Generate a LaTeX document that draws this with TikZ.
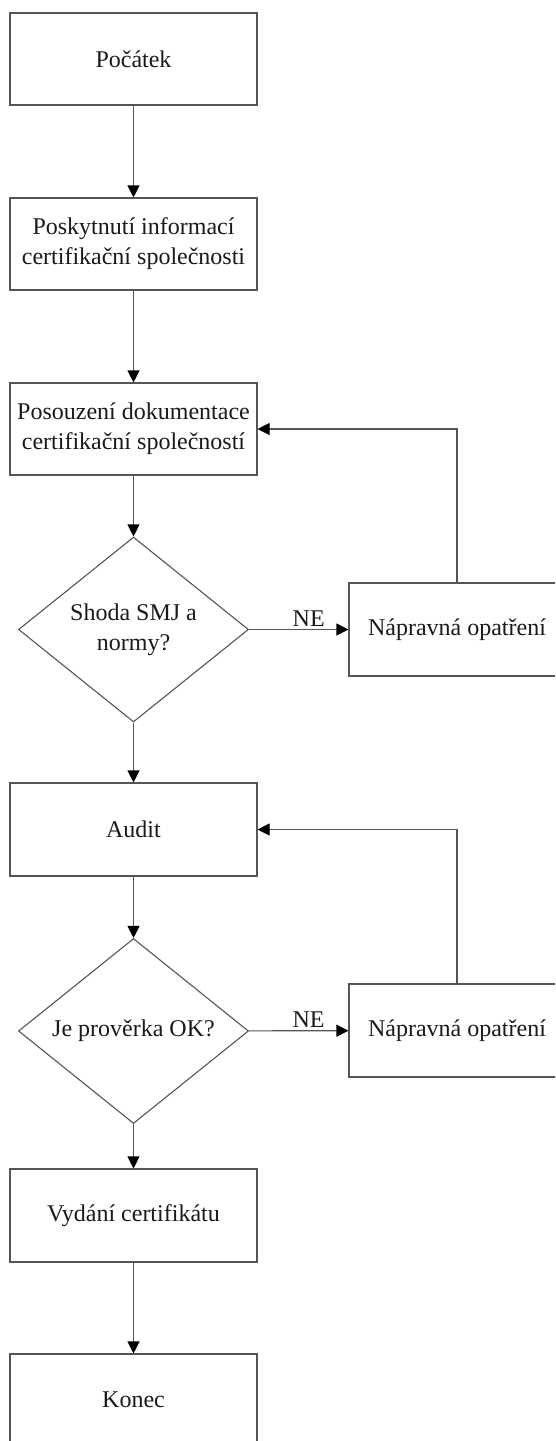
\documentclass[tikz,border=0pt]{standalone}
\usepackage{fontspec}
\setmainfont{Liberation Serif}
\usetikzlibrary{shapes.geometric,arrows.meta}
\definecolor{linegray}{HTML}{555555}
\definecolor{textcol}{HTML}{1A1A1A}
\begin{document}
\begin{tikzpicture}[x=1pt,y=-1pt,
  every node/.style={font=\fontsize{24}{30}\selectfont, text=textcol},
  procbox/.style={draw=linegray, line width=1.1pt, rectangle, minimum width=247pt, minimum height=92pt, inner sep=0pt, align=center},
  fixbox/.style={draw=linegray, line width=1.1pt, rectangle, minimum width=216pt, minimum height=93pt, inner sep=0pt, align=center},
  decision/.style={draw=linegray, line width=1.1pt, diamond, minimum width=230pt, minimum height=185pt, inner sep=0pt, align=center},
  conn/.style={draw=linegray, line width=1.1pt, -{Triangle[length=12pt,width=12pt,color=black]}},
  lbl/.style={font=\fontsize{24}{30}\selectfont}
]
\clip (0,0) rectangle (555,1441);
\fill[white] (0,0) rectangle (555,1441);

\node[procbox] (b1) at (133.5,59) {Počátek};
\node[procbox] (b2) at (133.5,244) {Poskytnutí informací\\certifikační společnosti};
\node[procbox] (b3) at (133.5,429) {Posouzení dokumentace\\certifikační společností};
\node[decision] (d1) at (133.5,629.5) {Shoda SMJ a\\normy?};
\node[fixbox] (n1) at (457,629.5) {Nápravná opatření};
\node[procbox, minimum height=93pt] (au) at (133.5,829.5) {Audit};
\node[decision] (d2) at (133.5,1031) {Je prověrka OK?};
\node[fixbox] (n2) at (457,1030.5) {Nápravná opatření};
\node[procbox, minimum height=93pt] (vy) at (133.5,1215.5) {Vydání certifikátu};
\node[procbox] (ko) at (133.5,1400) {Konec};

\draw[conn] (b1) -- (b2);
\draw[conn] (b2) -- (b3);
\draw[conn] (b3) -- (d1);
\draw[conn] (d1) -- node[lbl, above, pos=0.6, yshift=-1pt] (ne1) {NE} (n1);
\draw[conn] (n1.north) |- (b3.east);
\draw[conn] (d1) -- (au);
\draw[conn] (au) -- (d2);
\draw[conn] (d2) -- node[lbl, above, pos=0.6, yshift=-1pt] (ne2) {NE} (n2);
\draw[conn] (n2.north) |- (au.east);
\draw[conn] (d2) -- (vy);
\draw[conn] (vy) -- (ko);
\end{tikzpicture}
\end{document}
